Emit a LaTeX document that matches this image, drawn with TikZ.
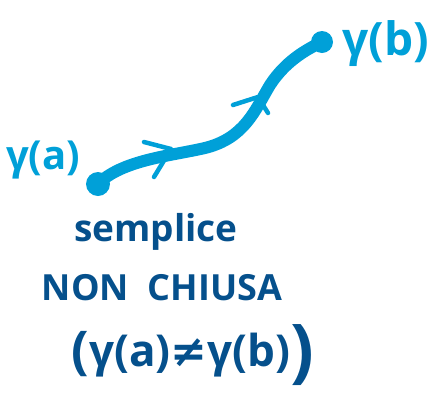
\documentclass[tikz,border=0pt]{standalone}
\usepackage{fontspec}
\setmainfont{Open Sans}
\newfontfamily\symfont{DejaVu Sans}
\usetikzlibrary{calc}
\definecolor{lightb}{HTML}{00A0D8}
\definecolor{darkb}{HTML}{05508C}
\tikzset{
  x=1pt,y=-1pt,
  curve/.style={lightb,line width=12pt,line cap=round,line join=round},
  chev/.style={lightb,line width=4.5pt,line cap=round,line join=round},
  lbl/.style={lightb,inner sep=0pt,font=\fontsize{40}{44}\selectfont\bfseries},
  txt/.style={darkb,inner sep=0pt},
}
\begin{document}
\begin{tikzpicture}
\useasboundingbox (0,0) rectangle (437,400);
\coordinate (A) at (98,184);
\coordinate (B) at (322,42);
\draw[curve] (A) .. controls (122,160) and (170,156) .. (205,148)
  .. controls (245,138) and (255,110) .. (270,85)
  .. controls (285,62) and (305,50) .. (B);
\fill[lightb] (A) circle (12);
\fill[lightb] (B) circle (11);
\coordinate (c1a) at (144,142);
\coordinate (c1t) at (171,149);
\coordinate (c1b) at (154,177);
\draw[chev] (c1a) -- (c1t) -- (c1b);
\coordinate (c2a) at (233,105);
\coordinate (c2t) at (258,97);
\coordinate (c2b) at (268,113);
\draw[chev] (c2a) -- (c2t) -- (c2b);
\node[lbl,anchor=center] (ga) at (43,160) {γ(a)};
\node[lbl,anchor=center,font=\fontsize{46}{50}\selectfont\bfseries] (gb) at (386,44) {γ(b)};
\node[txt,font=\fontsize{37}{42}\selectfont\bfseries] (s) at (156,232) {semplice};
\node[txt,font=\fontsize{36}{40}\selectfont\bfseries] (n) at (162,288) {NON\ \ CHIUSA};
\node[txt,font=\fontsize{44}{48}\selectfont\bfseries] (g) at (193,355) {\raisebox{-2pt}{\fontsize{52}{52}\selectfont(}γ(a){\symfont ≠}γ(b)\raisebox{-8pt}{\fontsize{70}{70}\selectfont)}};
\end{tikzpicture}
\end{document}
